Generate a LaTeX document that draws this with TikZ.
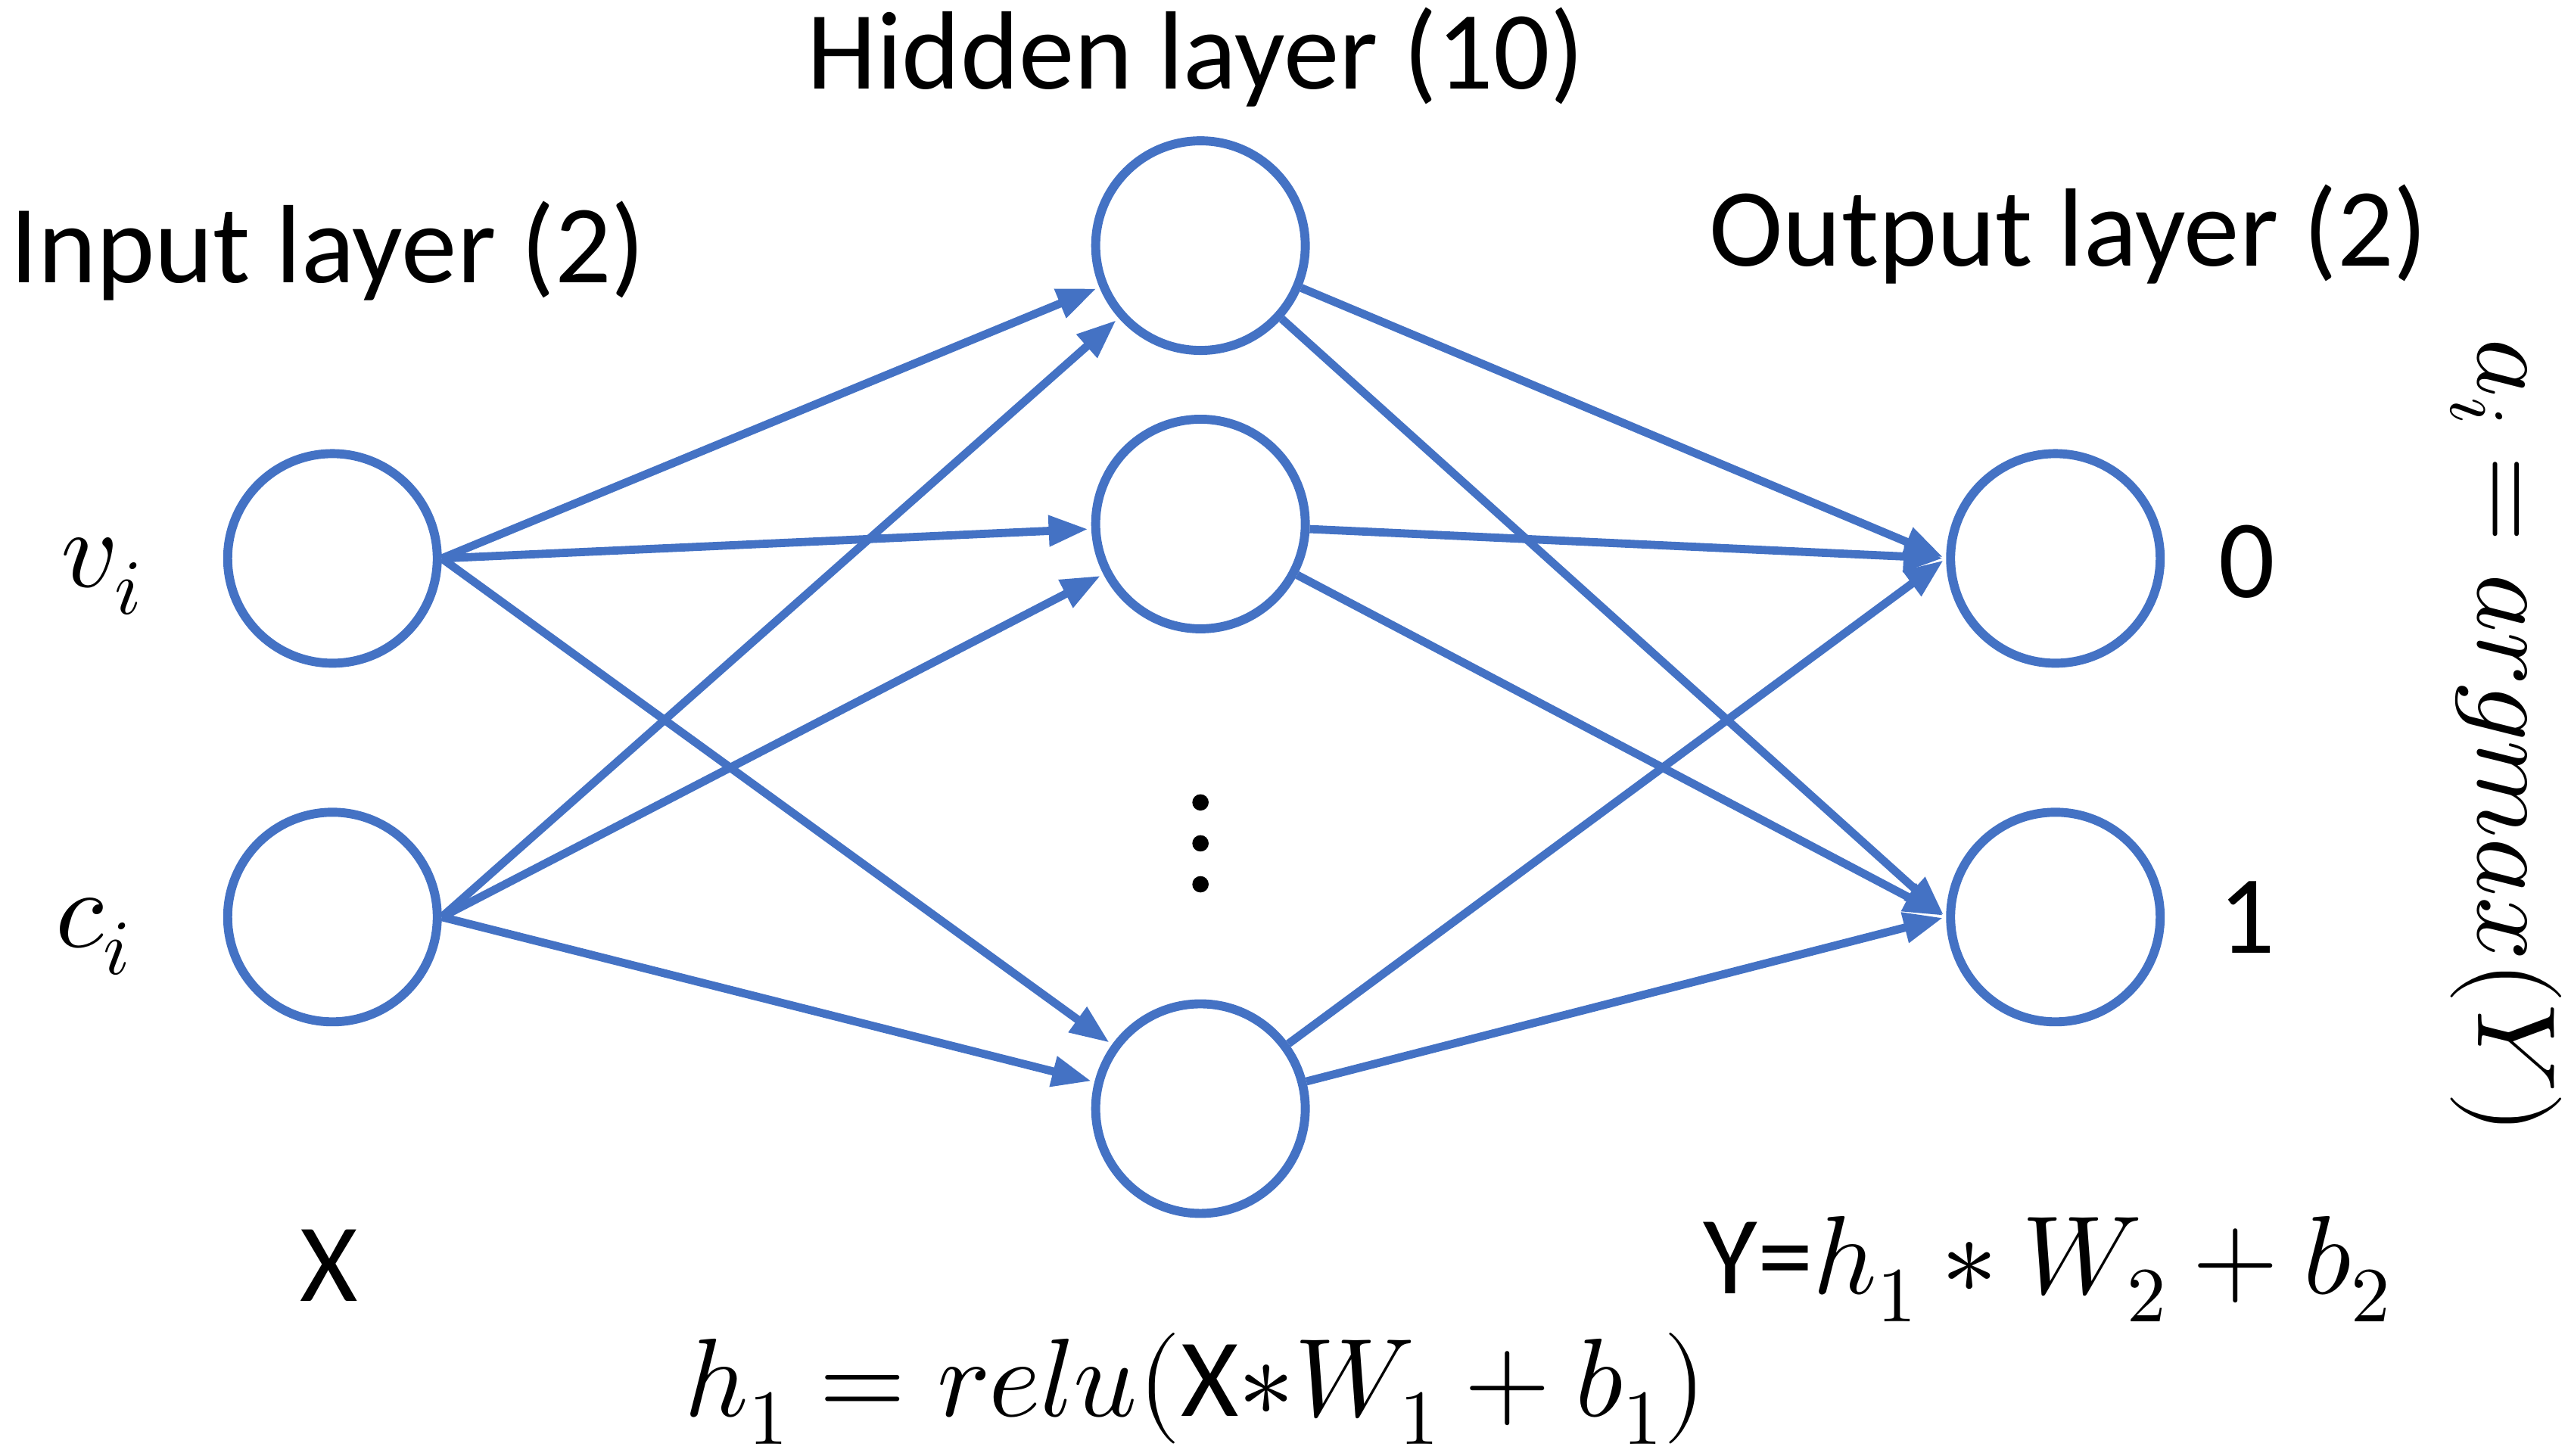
\documentclass[tikz,border=0pt]{standalone}
\usepackage{fontspec}
\usepackage{unicode-math}
\setmainfont{Carlito}
\setmathfont{Latin Modern Math}
\usetikzlibrary{arrows.meta}
\definecolor{nb}{RGB}{68,114,196}
\begin{document}
\begin{tikzpicture}[x=1pt,y=-1pt,
  neuron/.style={circle,draw=nb,line width=5.5pt,minimum size=128pt,inner sep=0pt},
  conn/.style={draw=nb,line width=5pt,-{Triangle[length=24pt,width=18pt]},shorten >=2pt},
  lbl/.style={font=\fontsize{68}{80}\selectfont,inner sep=0pt}]
\useasboundingbox (0,0) rectangle (1568,889);
\node[neuron] (i1) at (203,341) {};
\node[neuron] (i2) at (203,560) {};
\node[neuron] (h1) at (733,150) {};
\node[neuron] (h2) at (733,320) {};
\node[neuron] (h3) at (733,677) {};
\node[neuron] (o1) at (1255,341) {};
\node[neuron] (o2) at (1255,560) {};
\foreach \a in {i1,i2}\foreach \b in {h1,h2,h3}\draw[conn] (\a.east) -- (\b);
\foreach \a in {h1,h2,h3}\foreach \b in {o1,o2}\draw[conn] (\a) -- (\b.west);
\foreach \y in {490,515,540}\fill (733,\y) circle (5pt);
\node[lbl] (t1) at (200,153) {Input layer (2)};
\node[lbl] (t2) at (730,35) {Hidden layer (10)};
\node[lbl] (t3) at (1263,143) {Output layer (2)};
\node[lbl] (v) at (62,352) {$v_i$};
\node[lbl] (c) at (57,572) {$c_i$};
\node[lbl] (x) at (201,773) {X};
\node[lbl] (z) at (1372,343) {0};
\node[lbl] (one) at (1372,560) {1};
\node[lbl] (y) at (1250,775) {Y=$h_1 * W_2 + b_2$};
\node[lbl] (h) at (730,848) {$h_1 = relu($X$ * W_1 + b_1)$};
\node[lbl,rotate=-90] (a) at (1530,450) {$a_i = argmax(Y)$};
\end{tikzpicture}
\end{document}
